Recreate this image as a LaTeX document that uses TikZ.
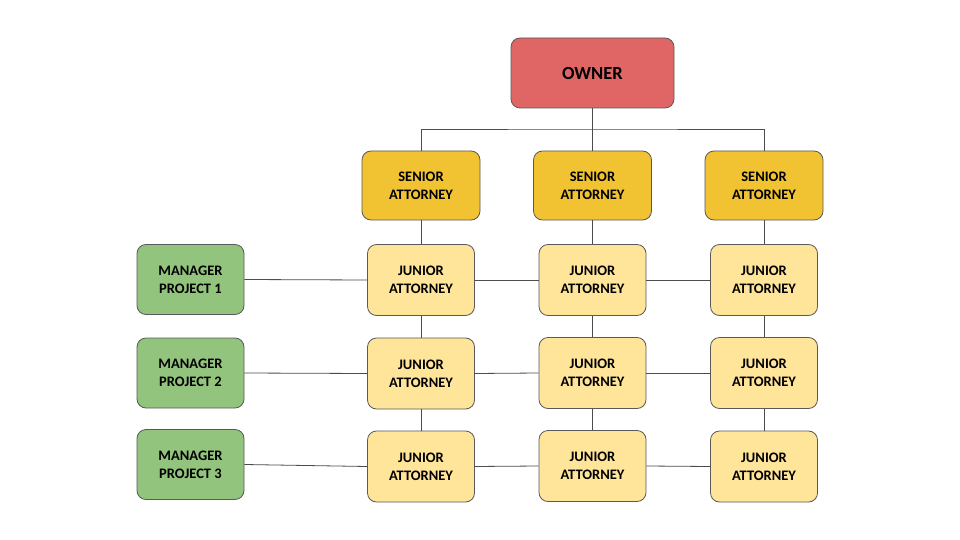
\documentclass[tikz,border=0pt]{standalone}
\usepackage{fontspec}
\setmainfont{Carlito}
\begin{document}
\begin{tikzpicture}[x=1pt,y=-1pt,
  box/.style={draw=black!65,line width=0.8pt,rounded corners=9pt,align=center,
    font=\bfseries\fontsize{14.5}{18}\selectfont,inner sep=0pt},
  ownerbox/.style={box,fill=ownerred,minimum width=163pt,minimum height=70pt,font=\bfseries\fontsize{18.5}{22}\selectfont},
  seniorbox/.style={box,fill=seniory,minimum width=118pt,minimum height=69pt},
  juniorbox/.style={box,fill=juniory,minimum width=107pt,minimum height=71pt},
  managerbox/.style={box,fill=mgrgreen,minimum width=107pt,minimum height=70pt},
  conn/.style={draw=black!70,line width=0.8pt}
]
\definecolor{ownerred}{HTML}{E06666}
\definecolor{seniory}{HTML}{F1C232}
\definecolor{juniory}{HTML}{FFE599}
\definecolor{mgrgreen}{HTML}{93C47D}
\useasboundingbox[fill=white] (0,0) rectangle (960,540);

\node[ownerbox] (own) at (592.5,73) {OWNER};

\node[seniorbox] (s1) at (421,185.5) {SENIOR\\ATTORNEY};
\node[seniorbox] (s2) at (592.5,185.5) {SENIOR\\ATTORNEY};
\node[seniorbox] (s3) at (764,185.5) {SENIOR\\ATTORNEY};

\node[managerbox] (m1) at (190.5,279.5) {MANAGER\\PROJECT 1};
\node[managerbox] (m2) at (190.5,373) {MANAGER\\PROJECT 2};
\node[managerbox] (m3) at (190.5,464.5) {MANAGER\\PROJECT 3};

\node[juniorbox] (j11) at (421,280) {JUNIOR\\ATTORNEY};
\node[juniorbox] (j12) at (592.5,280) {JUNIOR\\ATTORNEY};
\node[juniorbox] (j13) at (764,280) {JUNIOR\\ATTORNEY};
\node[juniorbox] (j21) at (421,373.5) {JUNIOR\\ATTORNEY};
\node[juniorbox] (j22) at (592.5,373) {JUNIOR\\ATTORNEY};
\node[juniorbox] (j23) at (764,373) {JUNIOR\\ATTORNEY};
\node[juniorbox] (j31) at (421,466.5) {JUNIOR\\ATTORNEY};
\node[juniorbox] (j32) at (592.5,466) {JUNIOR\\ATTORNEY};
\node[juniorbox] (j33) at (764,466.5) {JUNIOR\\ATTORNEY};

\coordinate (bus) at (592.5,129);
\draw[conn] (own.south) -- (s2.north);
\draw[conn] (s1.north) |- (bus) -| (s3.north);

\foreach \c in {1,2,3}{
  \draw[conn] (s\c.south) -- (j1\c.north);
  \draw[conn] (j1\c.south) -- (j2\c.north);
  \draw[conn] (j2\c.south) -- (j3\c.north);
}
\foreach \r in {1,2,3}{
  \draw[conn] (m\r.east) -- (j\r1.west);
  \draw[conn] (j\r1.east) -- (j\r2.west);
  \draw[conn] (j\r2.east) -- (j\r3.west);
}
\end{tikzpicture}
\end{document}
